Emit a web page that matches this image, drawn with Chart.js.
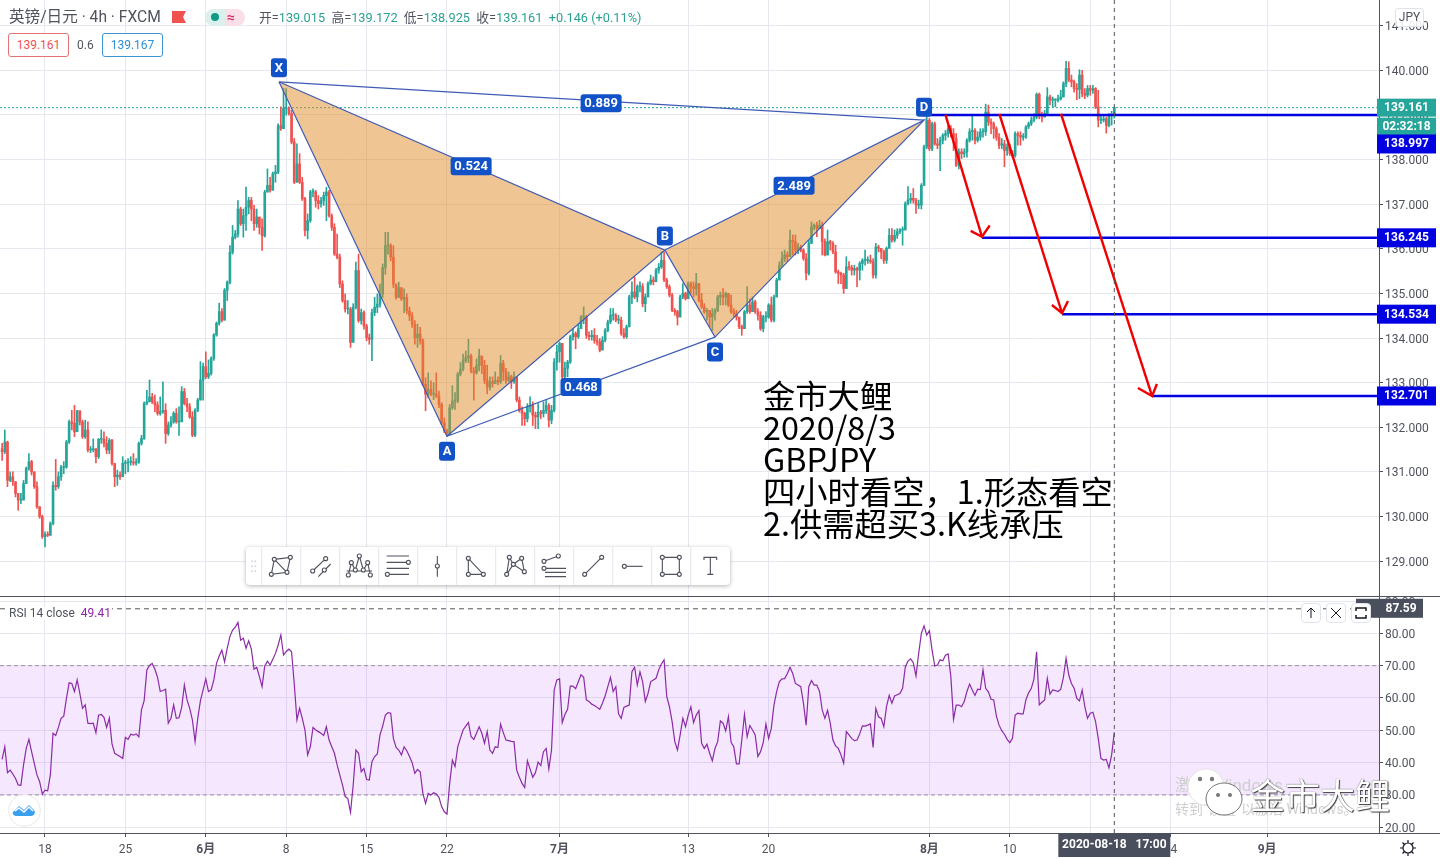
<!DOCTYPE html>
<html>
<head>
<meta charset="utf-8">
<script src="https://cdn.jsdelivr.net/npm/chart.js@4/dist/chart.umd.min.js"></script>
<style>
html, body { margin: 0; padding: 0; background: #fff; }
body { width: 1440px; height: 859px; overflow: hidden; position: relative; font-family: Roboto, "Noto Sans CJK SC", sans-serif; color: #50535e; }
canvas { position: absolute; left: 0; display: block; }
#priceChart { top: 0; }
#rsiChart { top: 596px; }
.t { position: absolute; white-space: pre; line-height: 1; }
.g { color: #2aa192; }
.box { position: absolute; top: 33px; height: 22px; width: 59px; border: 1px solid; border-radius: 3px; font-size: 12px; line-height: 22px; text-align: center; background: #fff; }
.big { position: absolute; left: 763px; font-family: "Noto Sans CJK SC", sans-serif; font-size: 32.3px; line-height: 32px; color: #000; white-space: pre; }
.btn { position: absolute; top: 603px; width: 18px; height: 18px; border: 1px solid #e0e3eb; border-radius: 4px; background: #fff; }
</style>
</head>
<body>
<canvas id="priceChart" width="1440" height="596"></canvas>
<canvas id="rsiChart" width="1440" height="263"></canvas>

<div class="t" style="left:9px;top:10px;font-size:15.6px;">英镑/日元 · 4h · FXCM</div>
<svg style="position:absolute;left:172px;top:11px" width="15" height="13"><path d="M0 0H14L11 6L14 12H0Z" fill="#ef5350"/></svg>
<div style="position:absolute;left:205px;top:9px;width:20px;height:17px;background:#d9f0ec;border-radius:9px 0 0 9px"></div>
<div style="position:absolute;left:225px;top:9px;width:20px;height:17px;background:#fbdfe8;border-radius:0 9px 9px 0"></div>
<div style="position:absolute;left:211px;top:13px;width:8px;height:8px;background:#0f9a86;border-radius:50%"></div>
<div class="t" style="left:227px;top:10px;font-size:14px;font-weight:bold;color:#d5306b">≈</div>
<div class="t" style="left:259px;top:12px;font-size:12.75px;">开=<span class="g">139.015</span>  高=<span class="g">139.172</span>  低=<span class="g">138.925</span>  收=<span class="g">139.161</span>  <span class="g">+0.146 (+0.11%)</span></div>
<div class="box" style="left:8px;border-color:#e57373;color:#ef5350">139.161</div>
<div class="t" style="left:77px;top:39px;font-size:12px;">0.6</div>
<div class="box" style="left:102px;border-color:#3d94d6;color:#2f8fd8">139.167</div>
<div style="position:absolute;left:1395px;top:8px;width:27px;height:17px;border:1px solid #e0e3eb;border-radius:3px;background:rgba(255,255,255,.85);font-size:12px;line-height:17px;text-align:center">JPY</div>

<div class="big" style="top:378px">金市大鲤</div>
<div class="big" style="top:410px">2020/8/3</div>
<div class="big" style="top:442px">GBPJPY</div>
<div class="big" style="top:474px">四小时看空，1.形态看空</div>
<div class="big" style="top:506px">2.供需超买3.K线承压</div>

<div style="position:absolute;left:246px;top:547px;width:484px;height:38px;background:#fff;border-radius:4px;box-shadow:0 1px 4px rgba(0,0,0,.3)"></div>
<svg style="position:absolute;left:240px;top:540px" width="500" height="50" viewBox="0 0 1500 150" fill="none" stroke="#50535e" stroke-width="3.4">
  <g stroke="#e6e8ee"><path d="M65 22V135M182 22V135M299 22V135M416 22V135M533 22V135M650 22V135M767 22V135M884 22V135M1001 22V135M1118 22V135M1235 22V135M1352 22V135"/></g>
  <g fill="#d5d8e0" stroke="none"><circle cx="36" cy="64" r="3"/><circle cx="46" cy="64" r="3"/><circle cx="36" cy="79" r="3"/><circle cx="46" cy="79" r="3"/><circle cx="36" cy="94" r="3"/><circle cx="46" cy="94" r="3"/></g>
  <path d="M103 58L151 52L141 97L94 103ZM103 58L141 97"/>
  <path d="M218 93L257 56M235 110L272 72"/>
  <path d="M320 93H396M325 105L334 68L346 90L358 48L370 90L383 68L391 105"/>
  <path d="M440 48H507M440 67H505M440 85H507M442 103H507"/>
  <path d="M592 48V110"/>
  <path d="M685 55V103H730Z"/>
  <path d="M800 103L808 52L820 73L845 55L853 95L820 73L800 103"/>
  <path d="M912 64L955 48M912 85H978M915 97H978M915 110H978"/>
  <path d="M1034 103L1085 52"/>
  <path d="M1153 79H1208"/>
  <path d="M1267 52H1318V103H1267Z"/>
  <path d="M1392 60V52H1430V60M1411 52V103M1402 103H1420"/>
  <g fill="#fff">
    <circle cx="103" cy="58" r="6"/><circle cx="151" cy="52" r="6"/><circle cx="141" cy="97" r="6"/><circle cx="94" cy="103" r="6"/>
    <circle cx="218" cy="93" r="6"/><circle cx="257" cy="56" r="6"/><circle cx="253" cy="90" r="6"/>
    <circle cx="325" cy="105" r="6"/><circle cx="334" cy="68" r="6"/><circle cx="346" cy="90" r="6"/><circle cx="358" cy="48" r="6"/><circle cx="370" cy="90" r="6"/><circle cx="383" cy="68" r="6"/><circle cx="391" cy="105" r="6"/>
    <circle cx="505" cy="67" r="6"/><circle cx="442" cy="103" r="6"/><circle cx="592" cy="78" r="6"/>
    <circle cx="685" cy="55" r="6"/><circle cx="685" cy="103" r="6"/><circle cx="730" cy="103" r="6"/>
    <circle cx="800" cy="103" r="6"/><circle cx="808" cy="52" r="6"/><circle cx="820" cy="73" r="6"/><circle cx="845" cy="55" r="6"/><circle cx="853" cy="95" r="6"/>
    <circle cx="912" cy="64" r="6"/><circle cx="955" cy="48" r="6"/><circle cx="912" cy="85" r="6"/>
    <circle cx="1034" cy="103" r="6"/><circle cx="1085" cy="52" r="6"/><circle cx="1153" cy="79" r="6"/>
    <circle cx="1267" cy="52" r="6"/><circle cx="1318" cy="52" r="6"/><circle cx="1318" cy="103" r="6"/><circle cx="1267" cy="103" r="6"/>
  </g>
</svg>

<div class="t" style="left:9px;top:607px;font-size:12px;background:#fff;padding-right:1px">RSI 14 close  <span style="color:#8e24aa">49.41</span></div>
<div class="btn" style="left:1301px"><svg width="18" height="18" fill="none" stroke="#131722"><path d="M9 14V4M5 8L9 4L13 8"/></svg></div>
<div class="btn" style="left:1326px"><svg width="18" height="18" fill="none" stroke="#131722"><path d="M4 4L14 14M14 4L4 14"/></svg></div>
<div class="btn" style="left:1351px"><svg width="18" height="18" fill="none" stroke="#131722" stroke-width="1.5"><path d="M4 7V4H14V7M4 11V14H14V11"/></svg></div>

<div style="position:absolute;left:8px;top:794px;width:31px;height:31px;border:1px solid #f0e6e2;border-radius:50%;background:#fff"></div>
<svg style="position:absolute;left:12px;top:801px" width="24" height="16"><path d="M1 11L7 5L12 9L17 4L22 9C24 12 22 15 19 15H5C2 15 0 13 1 11Z" fill="#3aa0ee"/><path d="M3 10L7 7L12 11L17 6L21 10" fill="none" stroke="#fff" stroke-width="1.4"/></svg>

<div class="t" style="left:1175px;top:777px;font-size:17px;color:#cfcfcf">激活 Windows</div>
<div class="t" style="left:1175px;top:802px;font-size:14px;color:#cfcfcf">转到“设置”以激活 Windows。</div>
<svg style="position:absolute;left:1178px;top:766px" width="70" height="56">
  <ellipse cx="28" cy="21" rx="18" ry="18" fill="#fff" stroke="#e4e4e4"/>
  <ellipse cx="46" cy="33" rx="18" ry="16" fill="#fff" stroke="#777"/>
  <circle cx="22" cy="13" r="2.2" fill="#777"/><circle cx="34" cy="13" r="2.2" fill="#777"/>
  <circle cx="40" cy="29" r="2" fill="#777"/><circle cx="52" cy="29" r="2" fill="#777"/>
</svg>
<div class="t" style="left:1250px;top:776px;font-family:'Noto Sans CJK SC';font-size:35px;color:#fff;text-shadow:0 0 1px #222,1px 1px 1px #444">金市大鲤</div>

<svg style="position:absolute;left:1399px;top:839px" width="18" height="18" fill="none" stroke="#131722" stroke-width="1.2"><circle cx="9" cy="9" r="5"/><path d="M9 1V4M9 14V17M1 9H4M14 9H17M3.5 3.5L5.5 5.5M12.5 12.5L14.5 14.5M3.5 14.5L5.5 12.5M12.5 5.5L14.5 3.5"/></svg>

<script>
// bar index 0 is 2020-05-18 00:00, one bar is 4h, 30 bars to a week
const firstBar = -16;
const dateTicks = [0, 30, 60, 90, 120, 150, 192, 240, 270, 330, 360, 390, 420, 456];
const dateLabels = ['18', '25', '6月', '8', '15', '22', '7月', '13', '20', '8月', '10', '17', '24', '9月'];
const priceTicks = [129, 130, 131, 132, 133, 134, 135, 136, 137, 138, 139, 140, 141];
const rsiTicks = [20, 30, 40, 50, 60, 70, 80, 90];

const firstOpen = 131.52;
const closes = [
    131.45,131.67,130.81,130.89,130.78,130.52,130.37,130.37,130.74,131.08,
    131.23,131.00,130.67,130.22,130.00,129.55,129.60,129.58,129.84,130.70,
    130.67,130.89,131.10,131.11,131.67,132.12,132.09,131.90,132.37,132.12,
    131.79,131.94,131.49,131.49,131.52,131.34,131.73,131.73,131.64,131.49,
    131.71,131.19,130.89,130.93,130.89,131.19,131.20,131.22,131.22,
    131.20,131.22,131.64,131.75,132.53,132.57,132.68,132.57,132.50,132.31,
    132.35,132.38,131.86,132.05,132.12,132.31,132.12,132.12,132.80,132.53,
    132.46,132.23,131.82,132.38,132.61,133.06,133.36,133.13,133.21,133.54,
    134.07,134.33,134.59,134.40,135.07,135.25,135.92,136.26,136.33,136.89,
    136.56,136.74,136.93,137.08,136.89,136.56,136.71,136.48,136.29,137.27,
    137.42,137.31,137.68,137.72,138.76,138.69,139.14,139.14,139.03,138.39,
    137.49,137.90,137.49,137.12,136.41,136.63,137.27,137.27,137.08,137.01,
    137.08,137.19,137.27,136.74,136.48,135.88,135.81,135.21,134.84,134.65,
    134.65,133.90,134.69,135.51,134.39,134.57,134.27,134.01,133.97,134.57,
    134.69,134.76,134.99,135.58,136.07,136.07,135.81,135.21,134.91,135.13,
    134.87,134.91,134.61,134.50,134.31,134.01,134.09,133.94,132.96,132.74,
    132.85,132.74,132.74,132.70,132.51,132.10,131.92,131.84,132.44,132.59,
    132.59,133.19,133.30,133.49,133.56,133.60,133.26,133.22,133.38,133.60,
    133.39,133.05,132.90,133.02,132.98,133.05,133.02,133.43,133.24,133.05,
    133.13,133.02,133.13,132.61,132.38,132.31,132.19,132.46,132.49,132.27,
    132.23,132.34,132.31,132.38,132.49,132.16,132.38,133.46,133.69,133.88,
    133.13,133.32,133.46,134.03,134.10,134.03,134.21,134.47,134.47,134.06,
    134.03,134.06,133.95,133.91,133.73,133.95,134.17,134.36,134.51,134.51,
    134.40,134.40,134.10,134.03,134.25,134.92,135.03,134.92,135.15,
    135.15,134.77,134.92,135.22,135.30,135.26,135.52,135.59,135.74,135.30,
    135.15,134.96,134.62,134.59,134.47,134.92,135.00,134.88,135.22,135.15,
    135.11,135.22,134.85,134.70,134.59,134.62,134.47,134.55,134.62,134.92,
    134.96,134.92,135.00,134.74,134.59,134.55,134.47,134.25,134.21,134.59,
    134.74,134.59,134.81,134.59,134.51,134.21,134.47,134.47,134.74,134.40,
    134.92,135.30,135.63,135.78,135.86,135.82,136.19,136.16,135.97,136.04,
    135.97,135.78,135.45,136.12,136.49,136.53,136.45,136.53,136.16,135.86,
    136.16,136.12,135.93,135.48,135.45,135.41,135.11,135.59,135.58,135.52,
    135.56,135.52,135.67,135.74,135.74,135.74,135.71,135.41,136.04,136.01,
    135.93,135.74,136.01,136.30,136.19,136.30,136.38,136.42,136.42,137.01,
    137.09,137.13,137.09,136.98,136.98,
    137.42,138.28,138.88,138.24,138.80,138.35,138.32,138.43,138.54,138.58,
    138.69,138.58,138.47,137.87,138.17,138.13,138.17,138.43,138.62,138.65,
    138.43,138.50,138.62,138.62,139.06,138.84,138.80,138.69,138.50,138.32,
    138.35,138.20,138.28,138.13,138.09,138.58,138.54,138.50,138.50,138.73,
    138.80,138.88,138.95,139.46,138.99,138.95,139.03,139.40,139.33,139.33,
    139.33,139.36,139.40,139.70,140.04,139.78,139.74,139.59,139.57,139.89,
    139.48,139.44,139.59,139.55,139.59,139.18,138.88,138.88,138.91,138.76,
    138.99,139.015,139.161
];
const highs = [
    131.64,131.94,131.69,131.00,131.00,130.78,130.52,130.52,130.81,131.11,
    131.41,131.26,131.00,130.78,130.22,130.03,129.66,129.66,129.88,130.78,
    131.28,131.00,131.15,131.23,131.71,132.16,132.38,132.49,132.38,132.37,
    132.16,132.16,132.12,131.57,131.74,131.52,131.75,131.94,131.90,131.79,
    131.75,131.73,131.19,131.04,131.00,131.34,131.26,131.30,131.34,
    131.41,131.30,131.67,131.82,132.57,132.83,133.06,132.76,132.72,132.57,
    132.68,133.02,132.53,132.12,132.24,132.35,132.42,132.46,132.91,132.87,
    132.65,132.53,132.35,132.42,132.65,133.47,133.44,133.69,133.51,133.58,
    134.10,134.36,134.78,134.66,135.11,135.28,136.07,136.52,136.41,137.08,
    136.93,136.89,137.38,137.15,137.15,136.97,136.89,136.71,136.67,137.31,
    137.79,137.60,137.72,137.87,138.80,139.18,139.59,139.59,139.18,139.10,
    138.47,138.35,138.13,137.60,137.15,136.78,137.31,137.34,137.31,137.19,
    137.15,137.27,137.38,137.31,136.78,136.56,136.33,135.88,135.28,134.99,
    134.84,134.69,134.77,135.70,135.88,134.65,134.61,134.31,134.09,134.65,
    134.91,134.99,135.21,135.66,136.37,136.37,136.11,136.07,135.21,135.25,
    135.06,135.10,134.99,134.69,134.57,134.39,134.31,134.24,133.98,133.11,
    133.22,133.04,133.00,133.22,132.81,132.55,132.21,131.96,132.51,132.93,
    132.78,133.23,133.45,133.64,133.71,133.97,133.64,133.34,133.53,133.75,
    133.58,133.50,133.39,133.13,133.13,133.24,133.13,133.61,133.50,133.32,
    133.24,133.17,133.24,133.13,132.68,132.46,132.34,132.53,132.68,132.57,
    132.34,132.53,132.38,132.57,132.60,132.53,132.49,133.54,133.84,133.91,
    133.88,133.46,133.50,134.06,134.21,134.14,134.32,134.51,134.70,134.51,
    134.14,134.17,134.21,134.06,133.99,134.03,134.21,134.40,134.66,134.66,
    134.55,134.51,134.47,134.21,134.29,134.96,135.26,135.37,135.19,
    135.26,135.22,134.99,135.26,135.41,135.37,135.56,135.67,135.93,135.93,
    135.34,135.19,135.00,134.66,134.62,134.96,135.22,135.03,135.26,135.26,
    135.26,135.45,135.22,135.00,134.77,134.66,134.59,134.66,134.66,134.96,
    135.03,135.11,135.03,135.00,134.96,134.66,134.62,134.36,134.29,134.62,
    135.15,134.88,134.92,134.85,134.66,134.59,134.51,134.59,134.77,134.92,
    134.96,135.34,135.71,135.93,135.97,135.93,136.42,136.31,136.31,136.12,
    136.08,136.00,135.89,136.19,136.60,136.56,136.60,136.64,136.60,136.22,
    136.42,136.19,136.16,136.08,135.52,135.48,135.45,135.82,135.71,135.63,
    135.63,135.59,135.71,135.78,135.97,135.82,135.86,135.78,136.12,136.08,
    136.01,135.97,136.04,136.45,136.45,136.42,136.45,136.45,136.49,137.05,
    137.39,137.24,137.35,137.13,137.09,
    137.46,138.32,138.99,138.92,138.84,138.84,138.47,138.50,138.58,138.65,
    138.76,138.76,138.69,138.58,138.24,138.24,138.24,138.47,138.69,138.99,
    138.69,138.62,138.69,138.69,139.24,139.22,138.91,138.84,138.73,138.58,
    138.47,138.43,138.35,138.35,138.20,138.62,138.62,138.62,138.58,138.76,
    138.84,138.95,139.03,139.49,139.49,139.06,139.10,139.61,139.44,139.40,
    139.36,139.44,139.55,139.74,140.20,140.19,139.89,139.78,139.70,140.01,
    140.00,139.59,139.66,139.66,139.66,139.61,139.55,138.99,138.99,138.95,
    139.03,139.08,139.172
];
const lows = [
    131.26,131.41,130.67,130.78,130.70,130.44,130.14,130.29,130.37,130.74,
    131.04,130.93,130.63,130.18,129.96,129.51,129.32,129.55,129.58,129.81,
    130.59,130.63,130.81,130.96,131.08,131.64,131.94,131.79,131.90,132.05,
    131.75,131.75,131.45,131.43,131.45,131.20,131.30,131.64,131.56,131.41,
    131.41,131.15,130.67,130.70,130.83,131.04,130.96,131.00,131.15,
    131.15,131.15,131.19,131.60,131.73,132.50,132.57,132.53,132.35,132.27,
    132.27,132.31,131.64,131.82,132.00,132.09,132.09,131.82,132.31,132.50,
    132.35,132.20,131.79,131.79,132.35,132.61,132.61,133.09,133.09,133.17,
    133.50,134.04,134.29,134.36,134.40,134.84,135.21,135.88,136.22,136.26,
    136.52,136.26,136.41,136.78,136.63,136.41,136.48,136.33,135.96,136.26,
    137.27,137.27,137.31,137.49,137.68,138.65,138.69,138.99,138.99,138.35,
    137.46,137.49,137.46,137.08,136.29,136.22,136.59,137.16,136.93,136.89,
    136.93,136.97,136.63,136.71,136.41,135.85,135.77,135.13,134.80,134.58,
    134.54,133.79,133.93,134.65,134.35,134.31,134.20,133.94,133.86,133.49,
    134.50,134.57,134.69,134.91,135.43,135.88,135.73,135.13,134.87,134.91,
    134.84,134.57,134.54,134.39,134.24,133.86,133.79,133.86,132.93,132.37,
    132.66,132.70,132.62,132.66,132.44,132.06,131.88,131.80,131.84,132.40,
    132.40,132.55,133.15,133.26,133.45,133.45,133.22,132.61,133.19,133.26,
    133.20,132.98,132.75,132.83,132.90,132.98,132.95,132.98,133.05,132.98,
    133.02,132.87,132.98,132.57,132.34,132.04,132.04,132.12,132.34,132.04,
    131.97,131.97,132.19,132.23,132.31,132.01,132.08,132.34,133.28,133.46,
    133.09,133.09,133.13,133.43,133.95,133.76,133.99,134.21,134.32,133.99,
    133.95,133.95,133.88,133.84,133.69,133.73,133.91,134.14,134.32,134.40,
    134.36,134.32,134.06,133.99,133.99,134.25,134.77,134.88,134.81,
    135.03,134.70,134.59,134.92,135.19,135.19,135.26,135.45,135.56,135.26,
    135.11,134.92,134.59,134.51,134.29,134.47,134.88,134.85,134.92,135.00,
    134.92,134.96,134.81,134.66,134.55,134.40,134.25,134.17,134.40,134.59,
    134.74,134.74,134.74,134.70,134.55,134.47,134.40,134.21,134.06,134.21,
    134.55,134.55,134.59,134.55,134.40,134.17,134.14,134.36,134.44,134.36,
    134.36,134.92,135.30,135.59,135.71,135.71,135.82,135.86,135.86,135.89,
    135.93,135.74,135.30,135.41,136.12,136.42,136.27,136.45,135.86,135.84,
    135.86,135.97,135.89,135.45,135.22,135.22,135.00,135.11,135.52,135.41,
    135.41,135.15,135.30,135.52,135.63,135.67,135.67,135.34,135.34,135.93,
    135.78,135.67,135.67,136.01,136.15,136.15,136.23,136.34,136.08,136.42,
    136.98,137.02,137.02,136.79,136.90,
    136.89,137.42,138.24,138.20,138.20,138.32,138.24,137.75,138.35,138.43,
    138.50,138.50,138.20,137.84,137.79,138.02,138.05,138.05,138.39,138.43,
    138.35,138.39,138.43,138.50,138.54,138.76,138.58,138.47,138.43,138.24,
    138.24,137.84,138.09,138.09,138.05,138.05,138.32,138.32,138.43,138.47,
    138.69,138.76,138.84,138.91,138.91,138.84,138.95,138.99,139.22,139.18,
    139.18,139.29,139.33,139.40,139.63,139.74,139.63,139.51,139.34,139.36,
    139.40,139.36,139.40,139.44,139.48,139.14,138.73,138.80,138.84,138.59,
    138.73,138.77,138.925
];
const rsiValues = [
    41,44.9,36.9,37.7,36.5,35.1,33.1,33,39.3,44.4,
    47.2,43.4,39.8,36.2,34.1,30.3,31.5,31.3,36.2,49.1,
    48.4,50.9,53.7,54.4,59.9,64.7,64.5,62,65.6,61.4,
    56.8,57.9,52.2,52.1,52.2,49.3,54.7,54.9,54,50.9,
    53.8,45.8,42.9,42.4,41.9,41.3,47.8,47.2,48.8,48.5,
    48.9,48,56.3,59.2,68.7,70.1,70.7,68.9,66.4,62,
    62.3,62.7,52.2,53.7,57.9,53.7,53.9,57.1,64,59.4,
    56.8,53.2,46.5,53.7,59.2,62.5,65.9,62,62.5,65.6,
    70.7,73,74.8,71.2,75.4,79,81,81.9,83.4,77.9,
    78.5,75.4,77.7,75.1,68.9,69.5,66.6,63.5,69.9,71.4,
    70.2,72,73.8,76.4,79.5,73.3,74.4,75.1,74.3,64.5,
    53.2,56.8,53.7,50.1,42.4,44.9,50.9,50.1,49.6,49.1,
    48.4,51.1,47,44.9,42.9,39.3,36.2,33.1,29.5,28.9,
    24.6,33.1,43.9,42.9,37.2,38.2,34.8,34.6,40.3,41.9,
    42.7,48.6,51.3,54.7,55.5,55.3,47.5,44.7,43.9,42.4,
    44.9,43.7,41.9,40,36.7,37.9,37.2,30.5,27.4,30.5,
    30,30.7,30.3,29.3,26.4,24.8,24.1,33.6,40.8,38.8,
    44.9,47.5,50.1,51.3,52.4,48,47.2,49.1,51.1,
    49.1,46,49.6,43.9,42.9,44.9,44.7,51.9,49.3,47,
    46.8,46.6,46.5,37.7,35.5,33.6,32.3,40.6,38,35.5,
    36.9,40.2,39.1,43.4,44.4,38,43.9,62.5,65.6,65.9,
    52.4,54.9,56.5,63.7,63.7,62.9,65,67.2,66.4,59.4,
    58.9,58.1,57.7,57.1,56.5,58.4,60.6,63.5,66.4,62,
    63.5,55.1,53.7,57.1,57.5,57.8,68.1,69.5,64,68.1,
    65,58.9,61.4,65,65.6,66.1,68.7,70.5,71.8,60.4,
    57.3,52.7,46.5,43.9,48.6,53.7,51.1,54.7,57.3,52.4,
    54.7,56.1,46,44.4,45.7,42.9,40.6,44.4,46.5,52.9,
    52.2,49.8,54.2,46.3,44.9,39.6,39.6,47,54.9,
    48,51.5,50.1,48.6,41.9,43.4,46.2,52,47.5,50.6,
    57.8,62,65,65.9,66,67.6,69.5,67.6,64.5,64,
    63.5,58.4,51.6,63.5,65.4,64,64,62,56.3,53.7,
    56.2,52.2,47,45.2,44.4,42.4,39.8,49.6,48.6,47.5,
    46.8,47,48.9,51.4,51.3,51.6,52,44.7,56.8,54.2,
    53.7,51.1,57.3,60.8,58.4,60.6,61,61.4,63,69.5,
    71.4,72.1,70.9,66.8,73.8,80,82.3,79.5,80.8,74.8,
    69.9,70.2,71.8,71.5,73.2,73.6,66.6,53.4,57.8,57.8,
    57.3,58.9,62,64.3,62.5,60.8,62.7,62.6,68.7,63,
    61.9,59.6,59.4,54.4,51.6,49.9,48.8,47.2,46.2,47.5,
    54.7,55.3,55.1,55.1,59.4,61.6,62.9,65.8,74.3,57.9,
    58.7,59.4,66.1,61.2,62.5,62.3,62,62.7,66.4,72.3,
    67.1,64.5,63,59.9,59.1,62.5,57.3,53.7,55.3,55.6,
    52.7,47.5,41.3,40.8,41,38.4,42.4,49.41
];

// XABCD pattern, in bar index and price
const patternNames = ['X', 'A', 'B', 'C', 'D'];
const patternBars = [87.3, 150, 231.3, 250, 328];
const patternPrices = [139.74, 131.80, 135.97, 134.02, 138.88];
const ratioTexts = ['0.889', '0.524', '0.468', '2.489'];
const ratioBars = [207.5, 159, 200, 279.5];
const ratioPrices = [139.26, 137.85, 132.90, 137.41];

const targetPrices = [138.997, 136.245, 134.534, 132.701];
const targetStartBars = [328, 349.6, 379.5, 413.1];
const arrowStartBars = [336, 356.1, 379.1];
const arrowStartPrices = [139.0, 139.02, 139.02];
const arrowTipBars = [349.6, 379.5, 413.1];
const arrowTipPrices = [136.27, 134.56, 132.70];
const arrowLeftBars = [345.4, 375.7, 407.8];
const arrowLeftPrices = [136.40, 134.74, 132.88];
const arrowRightBars = [352.5, 381.7, 414.9];
const arrowRightPrices = [136.52, 134.83, 132.97];

const lastBar = 399;
const lastPrice = 139.161;
const rsiUpper = 70;
const rsiLower = 30;
const rsiMaxLevel = 87.59;

const xMin = -16.79;
const xMax = 497.76;
const priceMin = 128.22;
const priceMax = 141.573;
const rsiMin = 18.24;
const rsiMax = 91.55;

const UP = '#26a69a';
const DOWN = '#ef5350';
const GRID = '#e6e8ef';
const AXIS = '#50535e';
const BLUE = '#0000e0';
const PATTERN = '#3f5bb5';
const PATTERN_FILL = 'rgba(226,139,41,0.5)';

Chart.defaults.font.family = 'Roboto, "Noto Sans CJK SC", sans-serif';
Chart.defaults.font.size = 12;
Chart.defaults.color = AXIS;

const opens = closes.map((c, i) => (i === 0 ? firstOpen : closes[i - 1]));
const barX = (i) => firstBar + i;
const candleColors = closes.map((c, i) => (c >= opens[i] ? UP : DOWN));

function lineSet(points, color, width, order, extra) {
    return Object.assign({
        type: 'line',
        data: points,
        borderColor: color,
        borderWidth: width,
        pointRadius: 0,
        tension: 0,
        fill: false,
        order: order,
    }, extra || {});
}

function twoPoints(x0, y0, x1, y1) {
    return [{ x: x0, y: y0 }, { x: x1, y: y1 }];
}

function patternPoint(i) {
    return { x: patternBars[i], y: patternPrices[i] };
}

function xAxis(height, showLabels) {
    return {
        type: 'linear',
        min: xMin,
        max: xMax,
        offset: false,
        afterBuildTicks(scale) {
            scale.ticks = dateTicks.map((value) => ({ value }));
        },
        afterFit(scale) {
            scale.height = height;
            scale.paddingLeft = 0;
            scale.paddingRight = 0;
        },
        grid: { color: GRID, offset: false, drawTicks: showLabels, tickLength: 4, tickColor: AXIS },
        border: { display: true, color: AXIS },
        ticks: {
            display: showLabels,
            autoSkip: false,
            maxRotation: 0,
            padding: 6,
            color: AXIS,
            callback: (value, index) => dateLabels[index],
            font: (ctx) => ({ weight: dateLabels[ctx.index] && dateLabels[ctx.index].includes('月') ? 'bold' : 'normal' }),
        },
    };
}

function yAxis(min, max, values, decimals) {
    return {
        position: 'right',
        min: min,
        max: max,
        afterBuildTicks(scale) {
            scale.ticks = values.map((value) => ({ value }));
        },
        afterFit(scale) {
            scale.width = 61;
            scale.paddingTop = 0;
            scale.paddingBottom = 0;
        },
        grid: { color: GRID, tickLength: 4, tickColor: AXIS },
        border: { display: true, color: AXIS },
        ticks: {
            padding: 2,
            labelOffset: 1.5,
            color: AXIS,
            crossAlign: 'near',
            autoSkip: false,
            callback: (value) => value.toFixed(decimals),
        },
    };
}

function pill(ctx, cx, cy, w, h, color, text, font) {
    ctx.fillStyle = color;
    ctx.beginPath();
    ctx.roundRect(cx - w / 2, cy - h / 2, w, h, 3);
    ctx.fill();
    ctx.fillStyle = '#fff';
    ctx.font = font;
    ctx.textAlign = 'center';
    ctx.textBaseline = 'middle';
    ctx.fillText(text, cx, cy + 0.5);
}

const patternLabels = {
    id: 'patternLabels',
    afterDraw(chart) {
        const ctx = chart.ctx;
        const x = chart.scales.x;
        const y = chart.scales.y;
        const font = 'bold 13px Roboto, sans-serif';
        const offsets = [-14, 15, -14, 15, -13];
        ctx.save();
        patternNames.forEach((name, i) => {
            pill(ctx, x.getPixelForValue(patternBars[i]), y.getPixelForValue(patternPrices[i]) + offsets[i], 16, 19, '#1252c8', name, font);
        });
        ratioTexts.forEach((text, i) => {
            pill(ctx, x.getPixelForValue(ratioBars[i]), y.getPixelForValue(ratioPrices[i]), 41, 18, '#1252c8', text, font);
        });

        // price scale labels
        const boxX = 1377;
        const boxW = 59;
        const labelFont = 'bold 12px Roboto, sans-serif';
        const drawBox = (cy, h, color, text) => {
            ctx.fillStyle = color;
            ctx.fillRect(boxX, cy - h / 2, boxW, h);
            ctx.fillStyle = '#fff';
            ctx.font = labelFont;
            ctx.textAlign = 'center';
            ctx.textBaseline = 'middle';
            ctx.fillText(text, boxX + boxW / 2, cy + 0.5);
        };
        const lastY = y.getPixelForValue(lastPrice);
        drawBox(lastY, 18, UP, lastPrice.toFixed(3));
        drawBox(lastY + 19, 18, UP, '02:32:18');
        drawBox(y.getPixelForValue(targetPrices[0]) + 29, 19, BLUE, targetPrices[0].toFixed(3));
        for (let i = 1; i < targetPrices.length; i++) {
            drawBox(y.getPixelForValue(targetPrices[i]), 19, BLUE, targetPrices[i].toFixed(3));
        }
        ctx.restore();
    },
};

const rsiLabels = {
    id: 'rsiLabels',
    afterDraw(chart) {
        const ctx = chart.ctx;
        const x = chart.scales.x;
        const y = chart.scales.y;
        const bottom = chart.chartArea.bottom;
        ctx.save();
        // pane separators run the full width
        ctx.fillStyle = AXIS;
        ctx.fillRect(0, 0, 1440, 1);
        ctx.fillRect(0, Math.round(bottom), 1440, 1);

        ctx.fillStyle = '#4a4f5e';
        ctx.fillRect(1356, y.getPixelForValue(rsiMaxLevel) - 10, 67, 19);
        ctx.fillStyle = '#fff';
        ctx.font = 'bold 12px Roboto, sans-serif';
        ctx.textAlign = 'center';
        ctx.textBaseline = 'middle';
        ctx.fillText(rsiMaxLevel.toFixed(2), 1401, y.getPixelForValue(rsiMaxLevel));

        const cx = x.getPixelForValue(lastBar);
        ctx.fillStyle = '#4a4f5e';
        ctx.fillRect(cx - 56, bottom, 112, 24);
        ctx.fillStyle = '#fff';
        ctx.fillText('2020-08-18   17:00', cx, bottom + 12);
        ctx.restore();
    },
};

function initPriceChart() {
    const ctx = document.getElementById('priceChart').getContext('2d');
    const datasets = [
        {
            data: closes.map((c, i) => ({ x: barX(i), y: [lows[i], highs[i]] })),
            backgroundColor: candleColors,
            barThickness: 1,
            grouped: false,
            order: 6,
        },
        {
            data: closes.map((c, i) => ({ x: barX(i), y: [opens[i], c] })),
            backgroundColor: candleColors,
            barThickness: 2,
            minBarLength: 1,
            grouped: false,
            order: 5,
        },
        lineSet(twoPoints(xMin, lastPrice, xMax, lastPrice), UP, 1, 7, { borderDash: [2, 2] }),
        lineSet([patternPoint(0), patternPoint(1), patternPoint(2), patternPoint(0)], PATTERN, 1.2, 4, { fill: 'shape', backgroundColor: PATTERN_FILL }),
        lineSet([patternPoint(2), patternPoint(3), patternPoint(4), patternPoint(2)], PATTERN, 1.2, 4, { fill: 'shape', backgroundColor: PATTERN_FILL }),
        lineSet([patternPoint(0), patternPoint(4)], PATTERN, 1.2, 3),
        lineSet([patternPoint(1), patternPoint(3)], PATTERN, 1.2, 3),
        lineSet(twoPoints(lastBar, priceMin, lastBar, priceMax), '#555', 1, 0, { borderDash: [4, 4] }),
    ];
    targetPrices.forEach((price, i) => {
        datasets.push(lineSet(twoPoints(targetStartBars[i], price, xMax, price), BLUE, 2.4, 2));
    });
    arrowTipBars.forEach((tipBar, i) => {
        const tip = { x: tipBar, y: arrowTipPrices[i] };
        datasets.push(lineSet([{ x: arrowStartBars[i], y: arrowStartPrices[i] }, tip], '#f00000', 2.4, 1));
        datasets.push(lineSet([{ x: arrowLeftBars[i], y: arrowLeftPrices[i] }, tip, { x: arrowRightBars[i], y: arrowRightPrices[i] }], '#f00000', 2.4, 1));
    });

    return new Chart(ctx, {
        type: 'bar',
        data: { datasets },
        options: {
            responsive: false,
            animation: false,
            devicePixelRatio: 1,
            layout: { padding: 0 },
            plugins: { legend: { display: false }, tooltip: { enabled: false } },
            scales: {
                x: xAxis(0, false),
                y: yAxis(priceMin, priceMax, priceTicks, 3),
            },
        },
        plugins: [patternLabels],
    });
}

function initRsiChart() {
    const ctx = document.getElementById('rsiChart').getContext('2d');
    return new Chart(ctx, {
        type: 'line',
        data: {
            datasets: [
                lineSet(rsiValues.map((v, i) => ({ x: barX(i), y: v })), '#8b2ba5', 1.2, 1),
                lineSet(twoPoints(xMin, rsiUpper, xMax, rsiUpper), '#9c8fa6', 1, 3, { borderDash: [4, 3], fill: '+1', backgroundColor: 'rgba(170,70,245,0.13)' }),
                lineSet(twoPoints(xMin, rsiLower, xMax, rsiLower), '#9c8fa6', 1, 3, { borderDash: [4, 3] }),
                lineSet(twoPoints(xMin, rsiMaxLevel, xMax, rsiMaxLevel), '#555', 1, 2, { borderDash: [5, 4] }),
                lineSet(twoPoints(lastBar, rsiMin, lastBar, rsiMax), '#555', 1, 0, { borderDash: [4, 4] }),
            ],
        },
        options: {
            responsive: false,
            animation: false,
            devicePixelRatio: 1,
            layout: { padding: 0 },
            plugins: { legend: { display: false }, tooltip: { enabled: false } },
            scales: {
                x: xAxis(26, true),
                y: yAxis(rsiMin, rsiMax, rsiTicks, 2),
            },
        },
        plugins: [rsiLabels],
    });
}

initPriceChart();
initRsiChart();
</script>
</body>
</html>
